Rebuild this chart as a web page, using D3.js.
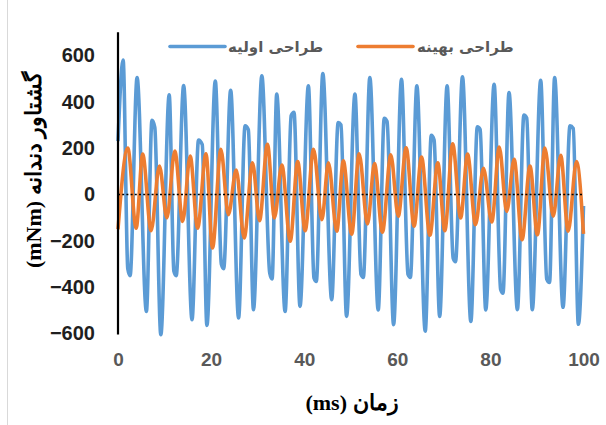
<!DOCTYPE html>
<html>
<head>
<meta charset="utf-8">
<script src="https://cdn.jsdelivr.net/npm/d3@7"></script>
<style>
  html, body { margin: 0; padding: 0; background: #fff; }
  svg { display: block; }
</style>
</head>
<body>
<svg id="chart" width="606" height="425"></svg>
<script>
// Gear-mesh torque over time: initial design vs optimised design
const initialTime = [0, 1.1, 2.1, 2.6, 4.1, 6.1, 7.3, 7.9, 9.2, 11.0, 12.0, 12.5, 14.1, 15.9, 17.3, 18.1, 19.1, 20.9,
  22.2, 22.7, 24.2, 25.9, 27.3, 28.0, 29.1, 30.9, 32.6, 33.1, 34.1, 35.9, 37.2, 37.8, 39.1, 40.9, 42.1, 42.6,
  44.0, 45.9, 47.3, 47.9, 49.1, 50.9, 52.2, 52.7, 54.1, 55.9, 57.2, 57.8, 59.2, 60.9, 62.3, 62.8, 64.2, 66.0,
  67.3, 67.9, 69.1, 70.7, 72.0, 72.5, 74.0, 75.8, 77.2, 77.8, 79.0, 80.8, 82.2, 82.7, 84.0, 85.8, 87.2, 87.8,
  89.0, 90.8, 92.1, 92.7, 93.8, 95.6, 97.1, 97.8, 98.9, 100];
const initialTorque = [230, 580, -320, -350, 505, -505, 320, 290, -605, 430, -330, -350, 470, -540, 235, 215, -565, 490,
  -300, -320, 450, -533, 296, 280, -497, 512, -340, -365, 433, -505, 340, 355, -483, 469, -360, -375,
  522, -454, 310, 300, -526, 433, -345, -358, 505, -498, 329, 315, -562, 497, -345, -358, 469, -590,
  255, 235, -526, 469, -275, -290, 508, -548, 292, 280, -498, 476, -410, -426, 440, -497, 343, 330,
  -497, 493, -365, -380, 505, -487, 296, 285, -560, -50];

const optimalTime = [0, 2.1, 3.9, 5.3, 7.1, 8.9, 10.5, 12.2, 13.9, 15.5, 17.1, 18.9, 20.3, 22.1, 23.7, 25.4, 27.1,
  28.9, 30.4, 32.1, 33.6, 35.2, 37.0, 38.6, 40.2, 42.0, 43.8, 45.2, 47.0, 48.4, 50.2, 51.8, 53.6, 55.1, 56.8,
  58.6, 60.2, 61.9, 63.6, 65.2, 67.0, 68.7, 70.2, 71.9, 73.6, 75.1, 76.8, 78.5, 80.3, 81.9, 83.5, 85.1, 86.8,
  88.5, 90.1, 91.7, 93.5, 95.1, 96.7, 98.5, 100];
const optimalTorque = [-150, 200, -145, 174, -156, 123, -101, 188, -116, 166, -145, 176, -231, 195, -87, 105, -188,
  137, -113, 217, -101, 127, -202, 142, -156, 195, -109, 137, -159, 145, -171, 176, -127, 133, -163,
  171, -94, 202, -137, 162, -176, 137, -156, 219, -101, 174, -130, 113, -119, 205, -73, 152, -195,
  123, -174, 200, -94, 169, -159, 142, -170];

const xTicks = [0, 20, 40, 60, 80, 100];
const yTicks = [-600, -400, -200, 0, 200, 400, 600];

const seriesNames = ["طراحی اولیه", "طراحی بهینه"];
const seriesColors = ["#5b9bd5", "#ed7d31"];

const svg = d3.select("#chart");

const x = d3.scaleLinear().domain([0, 100]).range([118, 583.5]);
const y = d3.scaleLinear().domain([-600, 700]).range([333.5, 32.3]);

// thin frame line on the left
svg.append("line")
  .attr("x1", 7.5).attr("x2", 7.5).attr("y1", 0).attr("y2", 425)
  .attr("stroke", "#d9d9d9").attr("stroke-width", 1);

const line = d3.line()
  .x(d => x(d[0]))
  .y(d => y(d[1]))
  .curve(d3.curveMonotoneX);

const initialPts = initialTime.map((t, i) => [t, initialTorque[i]]);
const optimalPts = optimalTime.map((t, i) => [t, optimalTorque[i]]);

svg.append("path").datum(initialPts)
  .attr("d", line).attr("fill", "none")
  .attr("stroke", seriesColors[0]).attr("stroke-width", 3.6)
  .attr("stroke-linejoin", "round");

svg.append("path").datum(optimalPts)
  .attr("d", line).attr("fill", "none")
  .attr("stroke", seriesColors[1]).attr("stroke-width", 3.6)
  .attr("stroke-linejoin", "round");

// dotted zero line
svg.append("line")
  .attr("x1", x(0)).attr("x2", x(100))
  .attr("y1", y(0)).attr("y2", y(0))
  .attr("stroke", "#000").attr("stroke-width", 1.6)
  .attr("stroke-dasharray", "2,2.2");

// y axis
const yAxis = d3.axisLeft(y).tickValues(yTicks).tickSize(0).tickPadding(23).tickFormat(d3.format("d"));
const gy = svg.append("g").attr("transform", `translate(${x(0)},0)`).call(yAxis);
gy.select(".domain").remove();
gy.selectAll("text")
  .attr("font-family", "'Liberation Sans', Arial, sans-serif")
  .attr("font-weight", "bold").attr("font-size", 20)
  .attr("fill", "#1f1f1f");

svg.append("line")
  .attr("x1", x(0)).attr("x2", x(0))
  .attr("y1", y(700)).attr("y2", y(-600) + 1)
  .attr("stroke", "#000").attr("stroke-width", 2.2);

// x axis labels
const xAxis = d3.axisBottom(x).tickValues(xTicks).tickSize(0).tickPadding(0).tickFormat(d3.format("d"));
const gx = svg.append("g").attr("transform", "translate(0,352)").call(xAxis);
gx.select(".domain").remove();
gx.selectAll("text")
  .attr("font-family", "'Liberation Sans', Arial, sans-serif")
  .attr("font-weight", "bold").attr("font-size", 19)
  .attr("fill", "#595959");

// axis titles
svg.append("text")
  .attr("x", 352).attr("y", 410)
  .attr("text-anchor", "middle")
  .attr("direction", "rtl")
  .attr("font-family", "'Liberation Serif', 'Times New Roman', serif")
  .attr("font-weight", "bold").attr("font-size", 22)
  .attr("fill", "#000")
  .text("زمان (ms)");

svg.append("text")
  .attr("transform", "translate(41,170) rotate(-90)")
  .attr("text-anchor", "middle")
  .attr("direction", "rtl")
  .attr("font-family", "'Liberation Serif', 'Times New Roman', serif")
  .attr("font-weight", "bold").attr("font-size", 22)
  .attr("fill", "#000")
  .text("گشتاور دندانه (mNm)");

// legend
const legendItems = [
  { name: seriesNames[0], color: seriesColors[0], x0: 170, x1: 225, tx: 228 },
  { name: seriesNames[1], color: seriesColors[1], x0: 358, x1: 413, tx: 417 }
];
const lg = svg.append("g");
legendItems.forEach(it => {
  lg.append("line")
    .attr("x1", it.x0).attr("x2", it.x1).attr("y1", 46.5).attr("y2", 46.5)
    .attr("stroke", it.color).attr("stroke-width", 3.6).attr("stroke-linecap", "round");
  lg.append("text")
    .attr("x", it.tx).attr("y", 52)
    .attr("font-family", "'DejaVu Sans', sans-serif")
    .attr("font-weight", "bold").attr("font-size", 15)
    .attr("fill", "#595959")
    .text(it.name);
});
</script>
</body>
</html>
